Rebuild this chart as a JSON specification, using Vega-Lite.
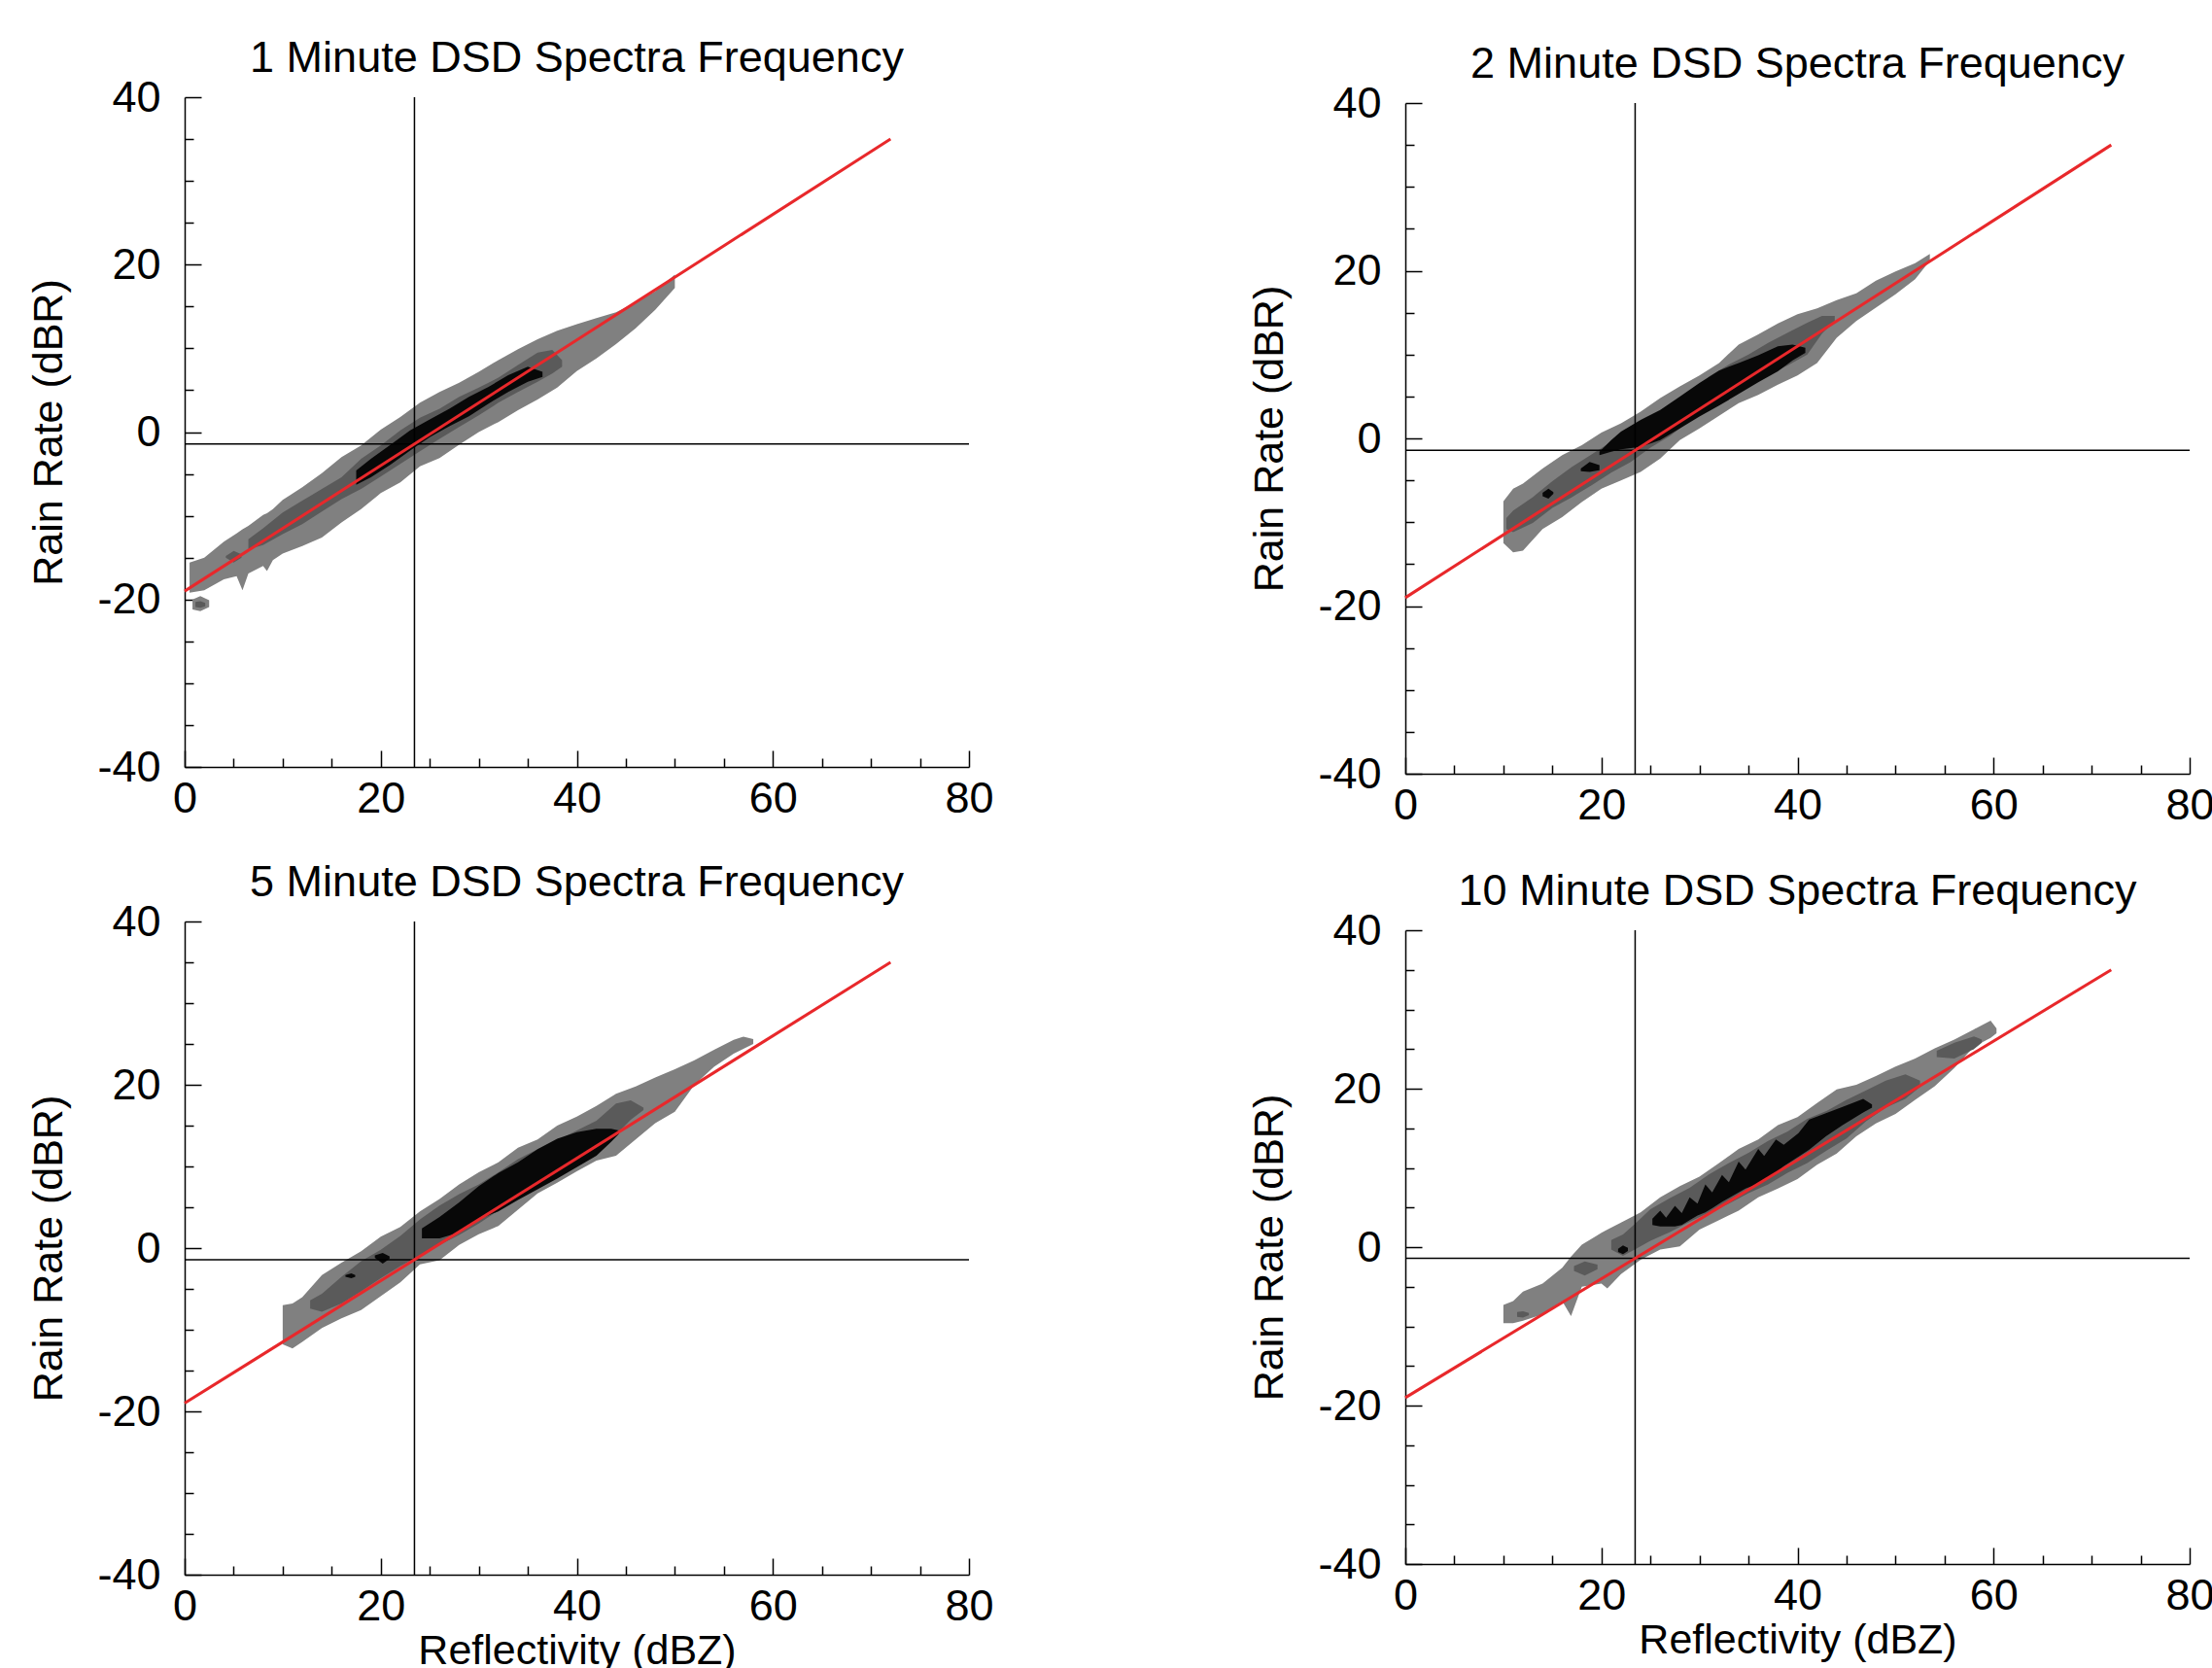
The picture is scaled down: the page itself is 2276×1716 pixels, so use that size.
{
  "$schema": "https://vega.github.io/schema/vega-lite/v6.json",
  "background": "white",
  "padding": {"left": 29, "top": 38, "right": 5, "bottom": 0},
  "config": {
    "font": "Liberation Sans",
    "view": {"stroke": null},
    "axis": {"labelFont": "Liberation Sans", "labelFontSize": 45, "labelColor": "black", "titleFont": "Liberation Sans", "titleFontSize": 43, "titleFontWeight": "normal", "titleColor": "black", "domainColor": "black", "domainWidth": 1.5, "tickColor": "black", "tickWidth": 1.5, "grid": false, "labelFlush": false, "labelOverlap": false},
    "axisX": {"labelPadding": 27, "titlePadding": -6},
    "axisY": {"labelPadding": 42, "titlePadding": 27},
    "title": {"font": "Liberation Sans", "fontSize": 45, "fontWeight": "normal", "color": "black", "anchor": "middle", "frame": "group", "offset": -5, "baseline": "alphabetic"}
  },
  "datasets": {
    "bands": [
      {"p":1,"lvl":1,"seg":"a","x":0.5,"lo":-19.2,"hi":-15.6},
      {"p":1,"lvl":1,"seg":"a","x":2,"lo":-18.9,"hi":-15.0},
      {"p":1,"lvl":1,"seg":"a","x":4,"lo":-17.6,"hi":-13.1},
      {"p":1,"lvl":1,"seg":"a","x":5.3,"lo":-17.2,"hi":-12.1},
      {"p":1,"lvl":1,"seg":"a","x":5.9,"lo":-18.9,"hi":-11.6},
      {"p":1,"lvl":1,"seg":"a","x":6.5,"lo":-16.9,"hi":-11.2},
      {"p":1,"lvl":1,"seg":"a","x":8,"lo":-16.0,"hi":-9.9},
      {"p":1,"lvl":1,"seg":"a","x":8.4,"lo":-16.6,"hi":-9.7},
      {"p":1,"lvl":1,"seg":"a","x":9,"lo":-15.3,"hi":-9.2},
      {"p":1,"lvl":1,"seg":"a","x":10,"lo":-14.5,"hi":-8.1},
      {"p":1,"lvl":1,"seg":"a","x":12,"lo":-13.6,"hi":-6.6},
      {"p":1,"lvl":1,"seg":"a","x":14,"lo":-12.6,"hi":-4.9},
      {"p":1,"lvl":1,"seg":"a","x":16,"lo":-10.8,"hi":-3.0},
      {"p":1,"lvl":1,"seg":"a","x":18,"lo":-9.2,"hi":-1.6},
      {"p":1,"lvl":1,"seg":"a","x":20,"lo":-7.3,"hi":0.3},
      {"p":1,"lvl":1,"seg":"a","x":22,"lo":-6.0,"hi":1.8},
      {"p":1,"lvl":1,"seg":"a","x":24,"lo":-4.1,"hi":3.5},
      {"p":1,"lvl":1,"seg":"a","x":26,"lo":-3.1,"hi":4.8},
      {"p":1,"lvl":1,"seg":"a","x":28,"lo":-1.5,"hi":5.9},
      {"p":1,"lvl":1,"seg":"a","x":30,"lo":0.0,"hi":7.2},
      {"p":1,"lvl":1,"seg":"a","x":32,"lo":1.2,"hi":8.6},
      {"p":1,"lvl":1,"seg":"a","x":34,"lo":2.6,"hi":9.9},
      {"p":1,"lvl":1,"seg":"a","x":36,"lo":3.9,"hi":11.1},
      {"p":1,"lvl":1,"seg":"a","x":38,"lo":5.3,"hi":12.1},
      {"p":1,"lvl":1,"seg":"a","x":40,"lo":7.3,"hi":12.9},
      {"p":1,"lvl":1,"seg":"a","x":42,"lo":8.8,"hi":13.6},
      {"p":1,"lvl":1,"seg":"a","x":44,"lo":10.5,"hi":14.3},
      {"p":1,"lvl":1,"seg":"a","x":46,"lo":12.4,"hi":15.5},
      {"p":1,"lvl":1,"seg":"a","x":48,"lo":14.6,"hi":16.8},
      {"p":1,"lvl":1,"seg":"a","x":50,"lo":17.2,"hi":18.8},
      {"p":1,"lvl":1,"seg":"b","x":0.8,"lo":-21.2,"hi":-20.0},
      {"p":1,"lvl":1,"seg":"b","x":1.6,"lo":-21.4,"hi":-19.6},
      {"p":1,"lvl":1,"seg":"b","x":2.5,"lo":-20.9,"hi":-20.1},
      {"p":1,"lvl":2,"seg":"a","x":4.2,"lo":-15.0,"hi":-14.8},
      {"p":1,"lvl":2,"seg":"a","x":5.0,"lo":-15.6,"hi":-14.2},
      {"p":1,"lvl":2,"seg":"a","x":5.8,"lo":-15.0,"hi":-14.6},
      {"p":1,"lvl":2,"seg":"b","x":6.5,"lo":-14.0,"hi":-12.8},
      {"p":1,"lvl":2,"seg":"b","x":8,"lo":-13.5,"hi":-11.5},
      {"p":1,"lvl":2,"seg":"b","x":10,"lo":-12.2,"hi":-9.6},
      {"p":1,"lvl":2,"seg":"b","x":12,"lo":-11.0,"hi":-8.2},
      {"p":1,"lvl":2,"seg":"b","x":14,"lo":-9.5,"hi":-6.8},
      {"p":1,"lvl":2,"seg":"b","x":16,"lo":-8.0,"hi":-5.4},
      {"p":1,"lvl":2,"seg":"b","x":18,"lo":-6.8,"hi":-3.2},
      {"p":1,"lvl":2,"seg":"b","x":20,"lo":-5.3,"hi":-1.6},
      {"p":1,"lvl":2,"seg":"b","x":22,"lo":-3.8,"hi":0.2},
      {"p":1,"lvl":2,"seg":"b","x":24,"lo":-2.3,"hi":1.7},
      {"p":1,"lvl":2,"seg":"b","x":26,"lo":-0.8,"hi":2.8},
      {"p":1,"lvl":2,"seg":"b","x":28,"lo":0.6,"hi":4.2},
      {"p":1,"lvl":2,"seg":"b","x":30,"lo":2.0,"hi":5.3},
      {"p":1,"lvl":2,"seg":"b","x":32,"lo":3.5,"hi":6.5},
      {"p":1,"lvl":2,"seg":"b","x":34,"lo":4.8,"hi":8.0},
      {"p":1,"lvl":2,"seg":"b","x":36,"lo":6.0,"hi":9.5},
      {"p":1,"lvl":2,"seg":"b","x":37.5,"lo":7.0,"hi":9.8},
      {"p":1,"lvl":2,"seg":"b","x":38.5,"lo":7.8,"hi":8.6},
      {"p":1,"lvl":2,"seg":"c","x":1.1,"lo":-20.9,"hi":-20.3},
      {"p":1,"lvl":2,"seg":"c","x":1.6,"lo":-21.0,"hi":-20.2},
      {"p":1,"lvl":2,"seg":"c","x":2.1,"lo":-20.8,"hi":-20.4},
      {"p":1,"lvl":3,"seg":"a","x":17.5,"lo":-6.3,"hi":-4.6},
      {"p":1,"lvl":3,"seg":"a","x":19,"lo":-5.4,"hi":-3.2},
      {"p":1,"lvl":3,"seg":"a","x":21,"lo":-3.9,"hi":-1.5},
      {"p":1,"lvl":3,"seg":"a","x":23,"lo":-2.2,"hi":0.2},
      {"p":1,"lvl":3,"seg":"a","x":25,"lo":-0.6,"hi":1.5},
      {"p":1,"lvl":3,"seg":"a","x":27,"lo":0.7,"hi":2.8},
      {"p":1,"lvl":3,"seg":"a","x":29,"lo":1.9,"hi":4.2},
      {"p":1,"lvl":3,"seg":"a","x":31,"lo":3.4,"hi":5.4},
      {"p":1,"lvl":3,"seg":"a","x":33,"lo":4.8,"hi":6.8},
      {"p":1,"lvl":3,"seg":"a","x":35,"lo":6.0,"hi":7.8},
      {"p":1,"lvl":3,"seg":"a","x":36.5,"lo":6.6,"hi":7.2},

      {"p":2,"lvl":1,"seg":"a","x":10.0,"lo":-12.5,"hi":-7.5},
      {"p":2,"lvl":1,"seg":"a","x":11,"lo":-13.6,"hi":-6.0},
      {"p":2,"lvl":1,"seg":"a","x":12,"lo":-13.4,"hi":-5.4},
      {"p":2,"lvl":1,"seg":"a","x":14,"lo":-10.8,"hi":-3.6},
      {"p":2,"lvl":1,"seg":"a","x":16,"lo":-9.4,"hi":-2.0},
      {"p":2,"lvl":1,"seg":"a","x":18,"lo":-7.6,"hi":-0.8},
      {"p":2,"lvl":1,"seg":"a","x":20,"lo":-6.0,"hi":0.7},
      {"p":2,"lvl":1,"seg":"a","x":22,"lo":-5.0,"hi":1.8},
      {"p":2,"lvl":1,"seg":"a","x":24,"lo":-4.0,"hi":3.2},
      {"p":2,"lvl":1,"seg":"a","x":26,"lo":-2.4,"hi":4.8},
      {"p":2,"lvl":1,"seg":"a","x":28,"lo":-0.2,"hi":6.2},
      {"p":2,"lvl":1,"seg":"a","x":30,"lo":1.2,"hi":7.5},
      {"p":2,"lvl":1,"seg":"a","x":32,"lo":2.7,"hi":9.0},
      {"p":2,"lvl":1,"seg":"a","x":34,"lo":4.2,"hi":11.2},
      {"p":2,"lvl":1,"seg":"a","x":36,"lo":5.2,"hi":12.4},
      {"p":2,"lvl":1,"seg":"a","x":38,"lo":6.4,"hi":13.7},
      {"p":2,"lvl":1,"seg":"a","x":40,"lo":7.5,"hi":14.8},
      {"p":2,"lvl":1,"seg":"a","x":42,"lo":9.0,"hi":15.5},
      {"p":2,"lvl":1,"seg":"a","x":44,"lo":12.0,"hi":16.5},
      {"p":2,"lvl":1,"seg":"a","x":46,"lo":14.0,"hi":17.3},
      {"p":2,"lvl":1,"seg":"a","x":48,"lo":15.6,"hi":18.8},
      {"p":2,"lvl":1,"seg":"a","x":50,"lo":17.2,"hi":19.9},
      {"p":2,"lvl":1,"seg":"a","x":52,"lo":19.0,"hi":20.9},
      {"p":2,"lvl":1,"seg":"a","x":53.5,"lo":21.2,"hi":22.0},
      {"p":2,"lvl":2,"seg":"a","x":10.3,"lo":-10.8,"hi":-9.5},
      {"p":2,"lvl":2,"seg":"a","x":11,"lo":-11.2,"hi":-8.6},
      {"p":2,"lvl":2,"seg":"a","x":13,"lo":-10.1,"hi":-7.0},
      {"p":2,"lvl":2,"seg":"a","x":15,"lo":-8.3,"hi":-5.1},
      {"p":2,"lvl":2,"seg":"a","x":17,"lo":-7.0,"hi":-3.4},
      {"p":2,"lvl":2,"seg":"a","x":19,"lo":-5.6,"hi":-1.9},
      {"p":2,"lvl":2,"seg":"a","x":21,"lo":-4.1,"hi":-0.4},
      {"p":2,"lvl":2,"seg":"a","x":23,"lo":-2.8,"hi":1.1},
      {"p":2,"lvl":2,"seg":"a","x":25,"lo":-1.1,"hi":2.5},
      {"p":2,"lvl":2,"seg":"a","x":27,"lo":0.3,"hi":3.5},
      {"p":2,"lvl":2,"seg":"a","x":29,"lo":2.1,"hi":5.2},
      {"p":2,"lvl":2,"seg":"a","x":31,"lo":3.7,"hi":7.4},
      {"p":2,"lvl":2,"seg":"a","x":33,"lo":5.1,"hi":8.8},
      {"p":2,"lvl":2,"seg":"a","x":35,"lo":6.4,"hi":10.0},
      {"p":2,"lvl":2,"seg":"a","x":37,"lo":7.6,"hi":11.4},
      {"p":2,"lvl":2,"seg":"a","x":39,"lo":8.7,"hi":12.6},
      {"p":2,"lvl":2,"seg":"a","x":41,"lo":10.0,"hi":13.8},
      {"p":2,"lvl":2,"seg":"a","x":42.5,"lo":12.5,"hi":14.6},
      {"p":2,"lvl":2,"seg":"a","x":43.8,"lo":14.0,"hi":14.6},
      {"p":2,"lvl":3,"seg":"a","x":19.8,"lo":-2.0,"hi":-1.6},
      {"p":2,"lvl":3,"seg":"a","x":21,"lo":-1.6,"hi":-0.2},
      {"p":2,"lvl":3,"seg":"a","x":22,"lo":-1.3,"hi":0.8},
      {"p":2,"lvl":3,"seg":"a","x":24,"lo":-1.0,"hi":2.2},
      {"p":2,"lvl":3,"seg":"a","x":26,"lo":-0.2,"hi":3.4},
      {"p":2,"lvl":3,"seg":"a","x":28,"lo":1.2,"hi":5.0},
      {"p":2,"lvl":3,"seg":"a","x":30,"lo":2.6,"hi":6.6},
      {"p":2,"lvl":3,"seg":"a","x":32,"lo":3.9,"hi":8.1},
      {"p":2,"lvl":3,"seg":"a","x":34,"lo":5.3,"hi":9.0},
      {"p":2,"lvl":3,"seg":"a","x":36,"lo":6.7,"hi":9.9},
      {"p":2,"lvl":3,"seg":"a","x":38,"lo":8.0,"hi":11.0},
      {"p":2,"lvl":3,"seg":"a","x":39.5,"lo":9.3,"hi":11.2},
      {"p":2,"lvl":3,"seg":"a","x":40.8,"lo":10.2,"hi":10.8},
      {"p":2,"lvl":3,"seg":"b","x":17.9,"lo":-3.9,"hi":-3.6},
      {"p":2,"lvl":3,"seg":"b","x":18.8,"lo":-4.0,"hi":-2.8},
      {"p":2,"lvl":3,"seg":"b","x":19.8,"lo":-3.8,"hi":-3.2},
      {"p":2,"lvl":3,"seg":"c","x":14.0,"lo":-6.9,"hi":-6.5},
      {"p":2,"lvl":3,"seg":"c","x":14.6,"lo":-7.2,"hi":-6.0},
      {"p":2,"lvl":3,"seg":"c","x":15.1,"lo":-6.6,"hi":-6.4},

      {"p":3,"lvl":1,"seg":"a","x":10,"lo":-11.8,"hi":-7.0},
      {"p":3,"lvl":1,"seg":"a","x":11,"lo":-12.3,"hi":-6.8},
      {"p":3,"lvl":1,"seg":"a","x":12,"lo":-11.5,"hi":-6.0},
      {"p":3,"lvl":1,"seg":"a","x":14,"lo":-9.8,"hi":-3.3},
      {"p":3,"lvl":1,"seg":"a","x":16,"lo":-8.6,"hi":-1.8},
      {"p":3,"lvl":1,"seg":"a","x":18,"lo":-7.6,"hi":-0.4},
      {"p":3,"lvl":1,"seg":"a","x":20,"lo":-5.9,"hi":1.4},
      {"p":3,"lvl":1,"seg":"a","x":22,"lo":-4.2,"hi":2.6},
      {"p":3,"lvl":1,"seg":"a","x":24,"lo":-2.0,"hi":4.5},
      {"p":3,"lvl":1,"seg":"a","x":26,"lo":-1.5,"hi":6.0},
      {"p":3,"lvl":1,"seg":"a","x":28,"lo":0.4,"hi":7.8},
      {"p":3,"lvl":1,"seg":"a","x":30,"lo":1.7,"hi":9.3},
      {"p":3,"lvl":1,"seg":"a","x":32,"lo":2.7,"hi":10.5},
      {"p":3,"lvl":1,"seg":"a","x":34,"lo":4.7,"hi":12.3},
      {"p":3,"lvl":1,"seg":"a","x":36,"lo":6.7,"hi":13.3},
      {"p":3,"lvl":1,"seg":"a","x":38,"lo":8.0,"hi":15.0},
      {"p":3,"lvl":1,"seg":"a","x":40,"lo":9.4,"hi":16.1},
      {"p":3,"lvl":1,"seg":"a","x":42,"lo":10.7,"hi":17.4},
      {"p":3,"lvl":1,"seg":"a","x":44,"lo":11.3,"hi":18.9},
      {"p":3,"lvl":1,"seg":"a","x":46,"lo":13.3,"hi":19.8},
      {"p":3,"lvl":1,"seg":"a","x":48,"lo":15.3,"hi":20.9},
      {"p":3,"lvl":1,"seg":"a","x":50,"lo":16.7,"hi":21.9},
      {"p":3,"lvl":1,"seg":"a","x":52,"lo":20.0,"hi":23.0},
      {"p":3,"lvl":1,"seg":"a","x":54,"lo":22.2,"hi":24.3},
      {"p":3,"lvl":1,"seg":"a","x":56,"lo":23.8,"hi":25.5},
      {"p":3,"lvl":1,"seg":"a","x":57,"lo":24.4,"hi":25.9},
      {"p":3,"lvl":1,"seg":"a","x":58,"lo":25.0,"hi":25.6},
      {"p":3,"lvl":2,"seg":"a","x":12.8,"lo":-7.4,"hi":-6.4},
      {"p":3,"lvl":2,"seg":"a","x":14,"lo":-7.8,"hi":-5.6},
      {"p":3,"lvl":2,"seg":"a","x":16,"lo":-6.8,"hi":-3.5},
      {"p":3,"lvl":2,"seg":"a","x":18,"lo":-5.3,"hi":-1.6},
      {"p":3,"lvl":2,"seg":"a","x":20,"lo":-3.7,"hi":-0.2},
      {"p":3,"lvl":2,"seg":"a","x":22,"lo":-2.2,"hi":1.5},
      {"p":3,"lvl":2,"seg":"a","x":24,"lo":-0.9,"hi":3.5},
      {"p":3,"lvl":2,"seg":"a","x":26,"lo":0.4,"hi":5.2},
      {"p":3,"lvl":2,"seg":"a","x":28,"lo":1.6,"hi":6.6},
      {"p":3,"lvl":2,"seg":"a","x":30,"lo":3.0,"hi":7.8},
      {"p":3,"lvl":2,"seg":"a","x":32,"lo":4.6,"hi":9.3},
      {"p":3,"lvl":2,"seg":"a","x":34,"lo":6.2,"hi":10.9},
      {"p":3,"lvl":2,"seg":"a","x":36,"lo":7.7,"hi":12.1},
      {"p":3,"lvl":2,"seg":"a","x":38,"lo":9.1,"hi":13.2},
      {"p":3,"lvl":2,"seg":"a","x":40,"lo":10.7,"hi":14.4},
      {"p":3,"lvl":2,"seg":"a","x":42,"lo":12.0,"hi":15.6},
      {"p":3,"lvl":2,"seg":"a","x":44,"lo":13.9,"hi":17.7},
      {"p":3,"lvl":2,"seg":"a","x":45.5,"lo":15.7,"hi":18.1},
      {"p":3,"lvl":2,"seg":"a","x":46.8,"lo":16.9,"hi":17.2},
      {"p":3,"lvl":3,"seg":"a","x":24.2,"lo":1.2,"hi":2.4},
      {"p":3,"lvl":3,"seg":"a","x":26,"lo":1.2,"hi":3.8},
      {"p":3,"lvl":3,"seg":"a","x":28,"lo":1.9,"hi":5.6},
      {"p":3,"lvl":3,"seg":"a","x":30,"lo":3.5,"hi":7.6},
      {"p":3,"lvl":3,"seg":"a","x":32,"lo":4.5,"hi":9.2},
      {"p":3,"lvl":3,"seg":"a","x":34,"lo":5.9,"hi":10.5},
      {"p":3,"lvl":3,"seg":"a","x":36,"lo":7.2,"hi":12.1},
      {"p":3,"lvl":3,"seg":"a","x":38,"lo":8.5,"hi":13.4},
      {"p":3,"lvl":3,"seg":"a","x":40,"lo":9.9,"hi":14.2},
      {"p":3,"lvl":3,"seg":"a","x":42,"lo":11.3,"hi":14.6},
      {"p":3,"lvl":3,"seg":"a","x":43.5,"lo":13.0,"hi":14.6},
      {"p":3,"lvl":3,"seg":"a","x":44.3,"lo":14.0,"hi":14.4},
      {"p":3,"lvl":3,"seg":"b","x":19.4,"lo":-1.2,"hi":-0.9},
      {"p":3,"lvl":3,"seg":"b","x":20.2,"lo":-1.9,"hi":-0.6},
      {"p":3,"lvl":3,"seg":"b","x":20.9,"lo":-1.3,"hi":-1.0},
      {"p":3,"lvl":3,"seg":"c","x":16.4,"lo":-3.5,"hi":-3.3},
      {"p":3,"lvl":3,"seg":"c","x":17.0,"lo":-3.7,"hi":-3.1},
      {"p":3,"lvl":3,"seg":"c","x":17.4,"lo":-3.5,"hi":-3.3},

      {"p":4,"lvl":1,"seg":"a","x":10,"lo":-9.6,"hi":-7.3},
      {"p":4,"lvl":1,"seg":"a","x":11,"lo":-9.6,"hi":-6.8},
      {"p":4,"lvl":1,"seg":"a","x":12,"lo":-9.3,"hi":-5.6},
      {"p":4,"lvl":1,"seg":"a","x":14,"lo":-8.5,"hi":-4.6},
      {"p":4,"lvl":1,"seg":"a","x":16,"lo":-6.8,"hi":-2.6},
      {"p":4,"lvl":1,"seg":"a","x":16.9,"lo":-8.7,"hi":-1.2},
      {"p":4,"lvl":1,"seg":"a","x":18,"lo":-5.0,"hi":0.3},
      {"p":4,"lvl":1,"seg":"a","x":20,"lo":-4.6,"hi":1.8},
      {"p":4,"lvl":1,"seg":"a","x":20.6,"lo":-5.2,"hi":2.2},
      {"p":4,"lvl":1,"seg":"a","x":22,"lo":-3.4,"hi":3.1},
      {"p":4,"lvl":1,"seg":"a","x":24,"lo":-1.6,"hi":4.4},
      {"p":4,"lvl":1,"seg":"a","x":26,"lo":-0.3,"hi":6.3},
      {"p":4,"lvl":1,"seg":"a","x":28,"lo":0.1,"hi":7.7},
      {"p":4,"lvl":1,"seg":"a","x":30,"lo":2.2,"hi":8.9},
      {"p":4,"lvl":1,"seg":"a","x":32,"lo":3.4,"hi":10.6},
      {"p":4,"lvl":1,"seg":"a","x":34,"lo":4.6,"hi":12.4},
      {"p":4,"lvl":1,"seg":"a","x":36,"lo":6.3,"hi":13.6},
      {"p":4,"lvl":1,"seg":"a","x":38,"lo":7.4,"hi":15.4},
      {"p":4,"lvl":1,"seg":"a","x":40,"lo":8.6,"hi":16.4},
      {"p":4,"lvl":1,"seg":"a","x":42,"lo":10.4,"hi":18.2},
      {"p":4,"lvl":1,"seg":"a","x":44,"lo":11.8,"hi":19.9},
      {"p":4,"lvl":1,"seg":"a","x":46,"lo":14.0,"hi":20.5},
      {"p":4,"lvl":1,"seg":"a","x":48,"lo":15.6,"hi":21.6},
      {"p":4,"lvl":1,"seg":"a","x":50,"lo":16.8,"hi":22.8},
      {"p":4,"lvl":1,"seg":"a","x":52,"lo":18.6,"hi":23.8},
      {"p":4,"lvl":1,"seg":"a","x":54,"lo":20.3,"hi":25.1},
      {"p":4,"lvl":1,"seg":"a","x":56,"lo":22.6,"hi":26.2},
      {"p":4,"lvl":1,"seg":"a","x":58,"lo":25.3,"hi":27.5},
      {"p":4,"lvl":1,"seg":"a","x":59.7,"lo":26.4,"hi":28.6},
      {"p":4,"lvl":1,"seg":"a","x":60.3,"lo":27.0,"hi":27.6},
      {"p":4,"lvl":2,"seg":"a","x":21.0,"lo":-0.3,"hi":0.9},
      {"p":4,"lvl":2,"seg":"a","x":22.2,"lo":-1.1,"hi":1.6},
      {"p":4,"lvl":2,"seg":"a","x":23.4,"lo":-0.3,"hi":2.9},
      {"p":4,"lvl":2,"seg":"a","x":25,"lo":0.8,"hi":4.8},
      {"p":4,"lvl":2,"seg":"a","x":27,"lo":1.9,"hi":6.2},
      {"p":4,"lvl":2,"seg":"a","x":29,"lo":3.2,"hi":7.5},
      {"p":4,"lvl":2,"seg":"a","x":31,"lo":4.4,"hi":9.2},
      {"p":4,"lvl":2,"seg":"a","x":33,"lo":5.5,"hi":10.6},
      {"p":4,"lvl":2,"seg":"a","x":35,"lo":6.8,"hi":11.9},
      {"p":4,"lvl":2,"seg":"a","x":37,"lo":7.9,"hi":13.4},
      {"p":4,"lvl":2,"seg":"a","x":39,"lo":9.4,"hi":14.6},
      {"p":4,"lvl":2,"seg":"a","x":41,"lo":10.6,"hi":16.2},
      {"p":4,"lvl":2,"seg":"a","x":43,"lo":12.2,"hi":17.2},
      {"p":4,"lvl":2,"seg":"a","x":45,"lo":13.7,"hi":18.6},
      {"p":4,"lvl":2,"seg":"a","x":47,"lo":15.9,"hi":19.8},
      {"p":4,"lvl":2,"seg":"a","x":49,"lo":17.6,"hi":21.0},
      {"p":4,"lvl":2,"seg":"a","x":51,"lo":18.7,"hi":21.8},
      {"p":4,"lvl":2,"seg":"a","x":52.5,"lo":20.2,"hi":21.0},
      {"p":4,"lvl":2,"seg":"b","x":17.2,"lo":-3.0,"hi":-2.4},
      {"p":4,"lvl":2,"seg":"b","x":18.3,"lo":-3.6,"hi":-1.8},
      {"p":4,"lvl":2,"seg":"b","x":19.6,"lo":-2.8,"hi":-2.2},
      {"p":4,"lvl":2,"seg":"c","x":11.4,"lo":-8.8,"hi":-8.2},
      {"p":4,"lvl":2,"seg":"c","x":12.0,"lo":-8.9,"hi":-8.1},
      {"p":4,"lvl":2,"seg":"c","x":12.6,"lo":-8.6,"hi":-8.3},
      {"p":4,"lvl":2,"seg":"d","x":54.2,"lo":24.0,"hi":24.8},
      {"p":4,"lvl":2,"seg":"d","x":56,"lo":23.8,"hi":25.8},
      {"p":4,"lvl":2,"seg":"d","x":58,"lo":25.0,"hi":26.6},
      {"p":4,"lvl":2,"seg":"d","x":58.8,"lo":25.8,"hi":26.2},
      {"p":4,"lvl":3,"seg":"a","x":25.2,"lo":2.8,"hi":3.6},
      {"p":4,"lvl":3,"seg":"a","x":26,"lo":2.6,"hi":4.6},
      {"p":4,"lvl":3,"seg":"a","x":26.6,"lo":2.6,"hi":3.7},
      {"p":4,"lvl":3,"seg":"a","x":27.5,"lo":2.6,"hi":5.2},
      {"p":4,"lvl":3,"seg":"a","x":28.2,"lo":2.8,"hi":4.3},
      {"p":4,"lvl":3,"seg":"a","x":29,"lo":3.4,"hi":6.3},
      {"p":4,"lvl":3,"seg":"a","x":29.8,"lo":4.0,"hi":5.5},
      {"p":4,"lvl":3,"seg":"a","x":30.6,"lo":4.4,"hi":7.9},
      {"p":4,"lvl":3,"seg":"a","x":31.3,"lo":4.9,"hi":6.9},
      {"p":4,"lvl":3,"seg":"a","x":32.3,"lo":5.7,"hi":9.1},
      {"p":4,"lvl":3,"seg":"a","x":33,"lo":6.2,"hi":8.2},
      {"p":4,"lvl":3,"seg":"a","x":34,"lo":6.9,"hi":10.8},
      {"p":4,"lvl":3,"seg":"a","x":34.7,"lo":7.4,"hi":9.8},
      {"p":4,"lvl":3,"seg":"a","x":36,"lo":8.0,"hi":12.4},
      {"p":4,"lvl":3,"seg":"a","x":36.6,"lo":8.4,"hi":11.5},
      {"p":4,"lvl":3,"seg":"a","x":37.8,"lo":9.4,"hi":13.6},
      {"p":4,"lvl":3,"seg":"a","x":38.6,"lo":10.2,"hi":12.9},
      {"p":4,"lvl":3,"seg":"a","x":40.1,"lo":11.4,"hi":14.4},
      {"p":4,"lvl":3,"seg":"a","x":41.2,"lo":12.3,"hi":16.1},
      {"p":4,"lvl":3,"seg":"a","x":42.9,"lo":14.0,"hi":16.9},
      {"p":4,"lvl":3,"seg":"a","x":44.6,"lo":15.4,"hi":17.7},
      {"p":4,"lvl":3,"seg":"a","x":46.7,"lo":17.0,"hi":18.7},
      {"p":4,"lvl":3,"seg":"a","x":47.6,"lo":17.6,"hi":18.0},
      {"p":4,"lvl":3,"seg":"b","x":21.7,"lo":-0.6,"hi":-0.2},
      {"p":4,"lvl":3,"seg":"b","x":22.2,"lo":-0.9,"hi":0.2},
      {"p":4,"lvl":3,"seg":"b","x":22.7,"lo":-0.5,"hi":-0.1}
    ],
    "vline": [{"x": 23.44, "y": -40, "y2": 40}],
    "hline": [{"y": -1.42}],
    "red": [{"x": 0, "y": -19}, {"x": 72, "y": 35}]
  },
  "columns": 2,
  "spacing": {"row": 152, "column": 449},
  "bounds": "flush",
  "align": "each",
  "concat": [
    {
      "width": 807, "height": 689,
      "title": {"text": "1 Minute DSD Spectra Frequency"},
      "layer": [
        {"data": {"name": "bands"}, "transform": [{"filter": "datum.p === 1 && datum.lvl === 1"}],
         "mark": {"type": "area", "color": "#808080", "interpolate": "linear"},
         "encoding": {
           "x": {"field": "x", "type": "quantitative", "scale": {"domain": [0, 80], "nice": false, "zero": false},
                 "axis": {"values": [0,5,10,15,20,25,30,35,40,45,50,55,60,65,70,75,80], "labelExpr": "datum.value % 20 === 0 ? '' + datum.value : ''", "tickSize": {"condition": {"test": "datum.value % 20 === 0", "value": -17}, "value": -9}, "title": null}},
           "y": {"field": "lo", "type": "quantitative", "scale": {"domain": [-40, 40], "nice": false, "zero": false},
                 "axis": {"values": [-40,-35,-30,-25,-20,-15,-10,-5,0,5,10,15,20,25,30,35,40], "labelExpr": "datum.value % 20 === 0 ? '' + datum.value : ''", "tickSize": {"condition": {"test": "datum.value % 20 === 0", "value": -17}, "value": -9}, "title": "Rain Rate (dBR)"}},
           "y2": {"field": "hi"},
           "detail": {"field": "seg"}
         }},
        {"data": {"name": "bands"}, "transform": [{"filter": "datum.p === 1 && datum.lvl === 2"}],
         "mark": {"type": "area", "color": "#5a5a5a", "interpolate": "linear"},
         "encoding": {"x": {"field": "x", "type": "quantitative"}, "y": {"field": "lo", "type": "quantitative"}, "y2": {"field": "hi"}, "detail": {"field": "seg"}}},
        {"data": {"name": "bands"}, "transform": [{"filter": "datum.p === 1 && datum.lvl === 3"}],
         "mark": {"type": "area", "color": "#080808", "interpolate": "linear"},
         "encoding": {"x": {"field": "x", "type": "quantitative"}, "y": {"field": "lo", "type": "quantitative"}, "y2": {"field": "hi"}, "detail": {"field": "seg"}}},
        {"data": {"name": "vline"}, "mark": {"type": "rule", "color": "black", "strokeWidth": 1.5},
         "encoding": {"x": {"field": "x", "type": "quantitative"}, "y": {"field": "y", "type": "quantitative"}, "y2": {"field": "y2"}}},
        {"data": {"name": "hline"}, "mark": {"type": "rule", "color": "black", "strokeWidth": 1.5},
         "encoding": {"y": {"field": "y", "type": "quantitative"}}},
        {"data": {"name": "red"}, "mark": {"type": "line", "color": "#e8282b", "strokeWidth": 3},
         "encoding": {"x": {"field": "x", "type": "quantitative"}, "y": {"field": "y", "type": "quantitative"}}}
      ]
    },
    {
      "width": 807, "height": 696,
      "title": {"text": "2 Minute DSD Spectra Frequency"},
      "layer": [
        {"data": {"name": "bands"}, "transform": [{"filter": "datum.p === 2 && datum.lvl === 1"}],
         "mark": {"type": "area", "color": "#808080", "interpolate": "linear"},
         "encoding": {
           "x": {"field": "x", "type": "quantitative", "scale": {"domain": [0, 80], "nice": false, "zero": false},
                 "axis": {"values": [0,5,10,15,20,25,30,35,40,45,50,55,60,65,70,75,80], "labelExpr": "datum.value % 20 === 0 ? '' + datum.value : ''", "tickSize": {"condition": {"test": "datum.value % 20 === 0", "value": -17}, "value": -9}, "title": null}},
           "y": {"field": "lo", "type": "quantitative", "scale": {"domain": [-40, 40], "range": [696, 6], "nice": false, "zero": false},
                 "axis": {"values": [-40,-35,-30,-25,-20,-15,-10,-5,0,5,10,15,20,25,30,35,40], "labelExpr": "datum.value % 20 === 0 ? '' + datum.value : ''", "tickSize": {"condition": {"test": "datum.value % 20 === 0", "value": -17}, "value": -9}, "title": "Rain Rate (dBR)"}},
           "y2": {"field": "hi"},
           "detail": {"field": "seg"}
         }},
        {"data": {"name": "bands"}, "transform": [{"filter": "datum.p === 2 && datum.lvl === 2"}],
         "mark": {"type": "area", "color": "#5a5a5a", "interpolate": "linear"},
         "encoding": {"x": {"field": "x", "type": "quantitative"}, "y": {"field": "lo", "type": "quantitative"}, "y2": {"field": "hi"}, "detail": {"field": "seg"}}},
        {"data": {"name": "bands"}, "transform": [{"filter": "datum.p === 2 && datum.lvl === 3"}],
         "mark": {"type": "area", "color": "#080808", "interpolate": "linear"},
         "encoding": {"x": {"field": "x", "type": "quantitative"}, "y": {"field": "lo", "type": "quantitative"}, "y2": {"field": "hi"}, "detail": {"field": "seg"}}},
        {"data": {"name": "vline"}, "mark": {"type": "rule", "color": "black", "strokeWidth": 1.5},
         "encoding": {"x": {"field": "x", "type": "quantitative"}, "y": {"field": "y", "type": "quantitative"}, "y2": {"field": "y2"}}},
        {"data": {"name": "hline"}, "mark": {"type": "rule", "color": "black", "strokeWidth": 1.5},
         "encoding": {"y": {"field": "y", "type": "quantitative"}}},
        {"data": {"name": "red"}, "mark": {"type": "line", "color": "#e8282b", "strokeWidth": 3},
         "encoding": {"x": {"field": "x", "type": "quantitative"}, "y": {"field": "y", "type": "quantitative"}}}
      ]
    },
    {
      "width": 807, "height": 672,
      "title": {"text": "5 Minute DSD Spectra Frequency"},
      "layer": [
        {"data": {"name": "bands"}, "transform": [{"filter": "datum.p === 3 && datum.lvl === 1"}],
         "mark": {"type": "area", "color": "#808080", "interpolate": "linear"},
         "encoding": {
           "x": {"field": "x", "type": "quantitative", "scale": {"domain": [0, 80], "nice": false, "zero": false},
                 "axis": {"values": [0,5,10,15,20,25,30,35,40,45,50,55,60,65,70,75,80], "labelExpr": "datum.value % 20 === 0 ? '' + datum.value : ''", "tickSize": {"condition": {"test": "datum.value % 20 === 0", "value": -17}, "value": -9}, "title": "Reflectivity (dBZ)"}},
           "y": {"field": "lo", "type": "quantitative", "scale": {"domain": [-40, 40], "nice": false, "zero": false},
                 "axis": {"values": [-40,-35,-30,-25,-20,-15,-10,-5,0,5,10,15,20,25,30,35,40], "labelExpr": "datum.value % 20 === 0 ? '' + datum.value : ''", "tickSize": {"condition": {"test": "datum.value % 20 === 0", "value": -17}, "value": -9}, "title": "Rain Rate (dBR)"}},
           "y2": {"field": "hi"},
           "detail": {"field": "seg"}
         }},
        {"data": {"name": "bands"}, "transform": [{"filter": "datum.p === 3 && datum.lvl === 2"}],
         "mark": {"type": "area", "color": "#5a5a5a", "interpolate": "linear"},
         "encoding": {"x": {"field": "x", "type": "quantitative"}, "y": {"field": "lo", "type": "quantitative"}, "y2": {"field": "hi"}, "detail": {"field": "seg"}}},
        {"data": {"name": "bands"}, "transform": [{"filter": "datum.p === 3 && datum.lvl === 3"}],
         "mark": {"type": "area", "color": "#080808", "interpolate": "linear"},
         "encoding": {"x": {"field": "x", "type": "quantitative"}, "y": {"field": "lo", "type": "quantitative"}, "y2": {"field": "hi"}, "detail": {"field": "seg"}}},
        {"data": {"name": "vline"}, "mark": {"type": "rule", "color": "black", "strokeWidth": 1.5},
         "encoding": {"x": {"field": "x", "type": "quantitative"}, "y": {"field": "y", "type": "quantitative"}, "y2": {"field": "y2"}}},
        {"data": {"name": "hline"}, "mark": {"type": "rule", "color": "black", "strokeWidth": 1.5},
         "encoding": {"y": {"field": "y", "type": "quantitative"}}},
        {"data": {"name": "red"}, "mark": {"type": "line", "color": "#e8282b", "strokeWidth": 3},
         "encoding": {"x": {"field": "x", "type": "quantitative"}, "y": {"field": "y", "type": "quantitative"}}}
      ]
    },
    {
      "width": 807, "height": 661,
      "title": {"text": "10 Minute DSD Spectra Frequency"},
      "layer": [
        {"data": {"name": "bands"}, "transform": [{"filter": "datum.p === 4 && datum.lvl === 1"}],
         "mark": {"type": "area", "color": "#808080", "interpolate": "linear"},
         "encoding": {
           "x": {"field": "x", "type": "quantitative", "scale": {"domain": [0, 80], "nice": false, "zero": false},
                 "axis": {"values": [0,5,10,15,20,25,30,35,40,45,50,55,60,65,70,75,80], "labelExpr": "datum.value % 20 === 0 ? '' + datum.value : ''", "tickSize": {"condition": {"test": "datum.value % 20 === 0", "value": -17}, "value": -9}, "title": "Reflectivity (dBZ)"}},
           "y": {"field": "lo", "type": "quantitative", "scale": {"domain": [-40, 40], "range": [661, 9], "nice": false, "zero": false},
                 "axis": {"values": [-40,-35,-30,-25,-20,-15,-10,-5,0,5,10,15,20,25,30,35,40], "labelExpr": "datum.value % 20 === 0 ? '' + datum.value : ''", "tickSize": {"condition": {"test": "datum.value % 20 === 0", "value": -17}, "value": -9}, "title": "Rain Rate (dBR)"}},
           "y2": {"field": "hi"},
           "detail": {"field": "seg"}
         }},
        {"data": {"name": "bands"}, "transform": [{"filter": "datum.p === 4 && datum.lvl === 2"}],
         "mark": {"type": "area", "color": "#5a5a5a", "interpolate": "linear"},
         "encoding": {"x": {"field": "x", "type": "quantitative"}, "y": {"field": "lo", "type": "quantitative"}, "y2": {"field": "hi"}, "detail": {"field": "seg"}}},
        {"data": {"name": "bands"}, "transform": [{"filter": "datum.p === 4 && datum.lvl === 3"}],
         "mark": {"type": "area", "color": "#080808", "interpolate": "linear"},
         "encoding": {"x": {"field": "x", "type": "quantitative"}, "y": {"field": "lo", "type": "quantitative"}, "y2": {"field": "hi"}, "detail": {"field": "seg"}}},
        {"data": {"name": "vline"}, "mark": {"type": "rule", "color": "black", "strokeWidth": 1.5},
         "encoding": {"x": {"field": "x", "type": "quantitative"}, "y": {"field": "y", "type": "quantitative"}, "y2": {"field": "y2"}}},
        {"data": {"name": "hline"}, "mark": {"type": "rule", "color": "black", "strokeWidth": 1.5},
         "encoding": {"y": {"field": "y", "type": "quantitative"}}},
        {"data": {"name": "red"}, "mark": {"type": "line", "color": "#e8282b", "strokeWidth": 3},
         "encoding": {"x": {"field": "x", "type": "quantitative"}, "y": {"field": "y", "type": "quantitative"}}}
      ]
    }
  ]
}
